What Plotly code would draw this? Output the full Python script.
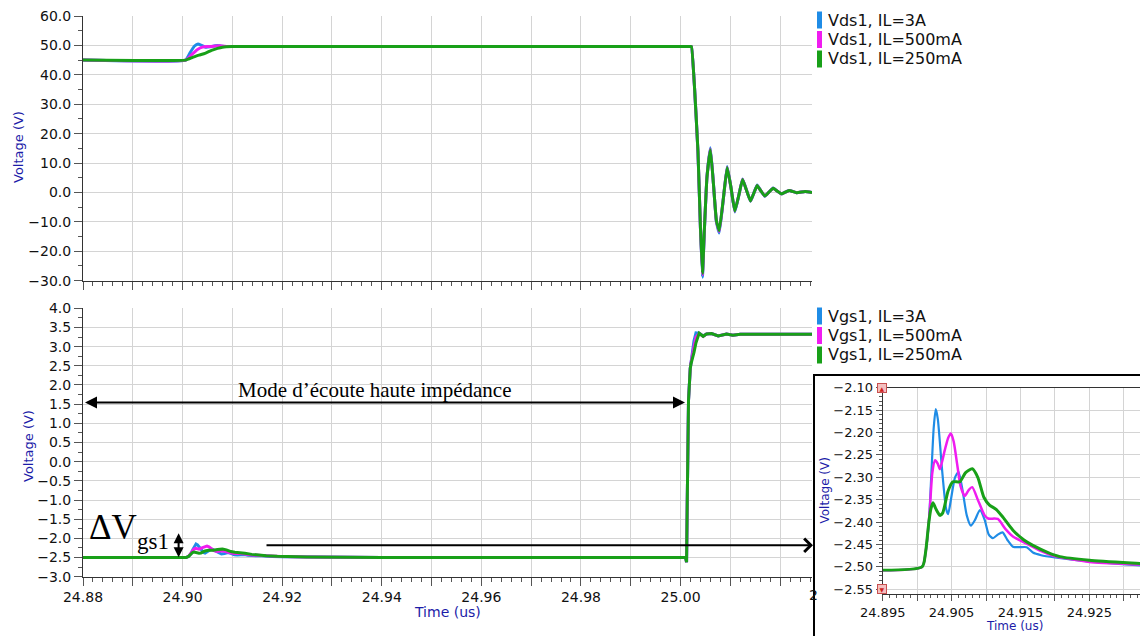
import plotly.graph_objects as go

# ---------------- data ----------------
series_colors = ["#1f8ce6", "#f01cf0", "#18a018"]
vds_names = ["Vds1, IL=3A", "Vds1, IL=500mA", "Vds1, IL=250mA"]
vgs_names = ["Vgs1, IL=3A", "Vgs1, IL=500mA", "Vgs1, IL=250mA"]

# Vds1 – turn-on bump around 24.90 us
t_vds_bump_3A = [24.88, 24.9006, 24.9015, 24.9024, 24.9031, 24.9038, 24.9046, 24.9055, 24.9065, 24.9075, 24.9085, 24.9100]
v_vds_bump_3A = [45.0, 45.0, 47.5, 49.8, 50.5, 50.0, 49.4, 49.5, 49.9, 49.9, 49.6, 49.6]
t_vds_bump_500mA = [24.88, 24.9006, 24.9018, 24.9030, 24.9040, 24.9050, 24.9062, 24.9075, 24.9090, 24.9100]
v_vds_bump_500mA = [45.0, 45.0, 46.8, 48.6, 49.4, 49.6, 49.7, 49.9, 49.6, 49.6]
t_vds_bump_250mA = [24.88, 24.9006, 24.9020, 24.9033, 24.9045, 24.9058, 24.9070, 24.9080, 24.9100]
v_vds_bump_250mA = [45.0, 45.0, 45.9, 46.7, 47.3, 48.3, 49.0, 49.4, 49.6]

# Vds1 – switching edge and ringing after 25.00 us
t_vds_ring = [25.0020, 25.0022, 25.0028, 25.0035, 25.0040, 25.0044, 25.0048, 25.0053, 25.0060, 25.0066, 25.0072,
              25.00777, 25.0086, 25.00936, 25.0101, 25.0109, 25.0117, 25.01245, 25.0132, 25.01405, 25.0147,
              25.01538, 25.0161, 25.01692, 25.0178, 25.01859, 25.0194, 25.02028, 25.0218, 25.0233, 25.0250, 25.0264]
v_vds_ring_3A = [49.6, 49.6, 36.0, 13.5, -12.5, -28.8, -12.5, 5.2, 15.2, 3.2, -10.0, -13.8, -2.2, 8.8, 2.0,
                 -6.6, -1.0, 4.6, 1.0, -3.0, -0.3, 2.5, 0.6, -1.3, 0.2, 1.5, 0.5, -0.5, 0.7, -0.1, 0.3, 0.0]
v_vds_ring_500mA = [49.6, 49.6, 36.0, 13.8, -12.2, -28.0, -12.2, 5.1, 14.8, 3.1, -9.7, -13.3, -2.1, 8.6, 2.0,
                    -6.4, -1.0, 4.5, 1.0, -2.9, -0.3, 2.4, 0.6, -1.2, 0.2, 1.4, 0.5, -0.45, 0.7, -0.1, 0.3, 0.0]
v_vds_ring_250mA = [49.6, 49.6, 36.0, 14.0, -12.0, -27.5, -12.0, 5.0, 14.5, 3.0, -9.5, -13.0, -2.0, 8.5, 2.0,
                    -6.3, -1.0, 4.4, 1.0, -2.9, -0.3, 2.4, 0.6, -1.2, 0.2, 1.4, 0.5, -0.45, 0.7, -0.1, 0.3, 0.0]

# Vgs1 – disturbance around 24.90 us (also shown in the zoomed inset)
t_vgs_bump_3A = [24.88, 24.9007, 24.9012, 24.9017, 24.9021, 24.9024, 24.9027, 24.9030, 24.9036, 24.9042,
                 24.9045, 24.9049, 24.9055, 24.9060, 24.9066, 24.9072, 24.9078, 24.9084, 24.9091, 24.9098,
                 24.9104, 24.9110, 24.9117, 24.9124, 24.9131, 24.9139, 24.9148, 24.9159, 24.9168, 24.9180,
                 24.9200, 24.9250, 24.9330, 24.9400]
v_vgs_bump_3A = [-2.50, -2.50, -2.47, -2.40, -2.28, -2.19, -2.148, -2.17, -2.28, -2.37,
                 -2.382, -2.35, -2.30, -2.288, -2.33, -2.385, -2.408, -2.395, -2.373, -2.395,
                 -2.428, -2.436, -2.428, -2.423, -2.44, -2.455, -2.456, -2.456, -2.468, -2.474,
                 -2.479, -2.488, -2.497, -2.50]
t_vgs_bump_500mA = [24.88, 24.9007, 24.9012, 24.9018, 24.9022, 24.9026, 24.9030, 24.9033, 24.9040, 24.9045,
                    24.9049, 24.9053, 24.9058, 24.9063, 24.9069, 24.9075, 24.9080, 24.9088, 24.9098, 24.9103,
                    24.9117, 24.9128, 24.9139, 24.9159, 24.9180, 24.9197, 24.9250, 24.9330, 24.9400]
v_vgs_bump_500mA = [-2.50, -2.50, -2.47, -2.38, -2.29, -2.262, -2.27, -2.282, -2.24, -2.212,
                    -2.202, -2.22, -2.27, -2.32, -2.342, -2.328, -2.322, -2.35, -2.385, -2.392,
                    -2.393, -2.415, -2.432, -2.448, -2.465, -2.475, -2.489, -2.495, -2.50]
t_vgs_bump_250mA = [24.88, 24.9007, 24.9012, 24.9017, 24.9020, 24.9023, 24.9027, 24.9033, 24.9037, 24.9045,
                    24.9052, 24.9062, 24.9070, 24.9080, 24.9088, 24.9097, 24.9105, 24.9115, 24.9125, 24.9139,
                    24.9155, 24.9168, 24.9190, 24.9207, 24.9250, 24.9330, 24.9400]
v_vgs_bump_250mA = [-2.50, -2.50, -2.47, -2.40, -2.37, -2.357, -2.37, -2.385, -2.38, -2.33,
                    -2.31, -2.31, -2.29, -2.281, -2.30, -2.345, -2.362, -2.372, -2.39, -2.418,
                    -2.44, -2.452, -2.468, -2.477, -2.485, -2.493, -2.50]

# Vgs1 – turn-on edge after 25.00 us
t_vgs_edge = [25.0010, 25.00121, 25.00135, 25.0016, 25.00195, 25.0021, 25.0027, 25.0031, 25.00374,
              25.00454, 25.00522, 25.00622, 25.00756, 25.00924, 25.0105, 25.0120, 25.0264]
v_vgs_edge_3A = [-2.5, -2.62, -1.0, 1.6, 2.43, 2.60, 3.15, 3.36, 3.35, 3.28, 3.33, 3.34, 3.28, 3.33, 3.30, 3.32, 3.32]
v_vgs_edge_500mA = [-2.5, -2.62, -1.0, 1.6, 2.43, 2.58, 3.00, 3.25, 3.35, 3.27, 3.33, 3.34, 3.28, 3.33, 3.30, 3.32, 3.32]
v_vgs_edge_250mA = [-2.5, -2.62, -1.0, 1.6, 2.43, 2.55, 2.85, 3.10, 3.35, 3.27, 3.33, 3.34, 3.28, 3.33, 3.30, 3.32, 3.32]

# axis ticks
x_main_ticks = [24.88, 24.89, 24.90, 24.91, 24.92, 24.93, 24.94, 24.95, 24.96, 24.97, 24.98, 24.99, 25.00, 25.01, 25.02]
x_main_text = ["24.88", "", "24.90", "", "24.92", "", "24.94", "", "24.96", "", "24.98", "", "25.00", "", ""]
x_inset_ticks = [24.895, 24.900, 24.905, 24.910, 24.915, 24.920, 24.925, 24.930]
x_inset_text = ["24.895", "", "24.905", "", "24.915", "", "24.925", ""]

# ---------------- assemble series ----------------
vds_t = [t_vds_bump_3A + t_vds_ring, t_vds_bump_500mA + t_vds_ring, t_vds_bump_250mA + t_vds_ring]
vds_v = [v_vds_bump_3A + v_vds_ring_3A, v_vds_bump_500mA + v_vds_ring_500mA, v_vds_bump_250mA + v_vds_ring_250mA]
vgs_t = [t_vgs_bump_3A + t_vgs_edge, t_vgs_bump_500mA + t_vgs_edge, t_vgs_bump_250mA + t_vgs_edge]
vgs_v = [v_vgs_bump_3A + v_vgs_edge_3A, v_vgs_bump_500mA + v_vgs_edge_500mA, v_vgs_bump_250mA + v_vgs_edge_250mA]
inset_widths = [2.2, 2.5, 3.0]

# The page body has an 8px margin, so the figure is drawn 8px smaller and
# positions below are given in page pixels (fx / fy convert them).
OFF = 8
W, H = 1148 - OFF, 636 - OFF
ML, MR, MT, MB = 83 - OFF, 0, 16 - OFF, 20
PW, PH = W - ML - MR, H - MT - MB


def fx(p):
    return (p - OFF - ML) / PW


def fy(p):
    return (H - MB - (p - OFF)) / PH


fig = go.Figure()
for i in range(3):
    fig.add_trace(go.Scatter(x=vds_t[i], y=vds_v[i], mode="lines", name=vds_names[i],
                             line=dict(color=series_colors[i], width=3, shape="spline", smoothing=0.35),
                             xaxis="x", yaxis="y"))
for i in range(3):
    fig.add_trace(go.Scatter(x=vgs_t[i], y=vgs_v[i], mode="lines", name=vgs_names[i],
                             line=dict(color=series_colors[i], width=3), xaxis="x2", yaxis="y2"))
for i in range(3):
    fig.add_trace(go.Scatter(x=vgs_t[i], y=vgs_v[i], mode="lines", name=vgs_names[i],
                             line=dict(color=series_colors[i], width=inset_widths[i], shape="spline", smoothing=0.6),
                             xaxis="x3", yaxis="y3"))

tick_font = dict(family="DejaVu Sans", size=14, color="#111")
inset_font = dict(family="DejaVu Sans", size=13, color="#111")
common = dict(showline=True, linecolor="#333", linewidth=1, ticks="outside", ticklen=8,
              tickcolor="#555", tickwidth=1, gridcolor="#d4d4d4", gridwidth=1, zeroline=False,
              tickfont=tick_font, automargin=False, ticklabeloverflow="allow")

main_dom = [0.0, fx(812)]
xr = [24.88, 25.0264]

fig.update_layout(
    width=W, height=H, autosize=False,
    margin=dict(l=ML, r=MR, t=MT, b=MB, pad=0, autoexpand=False),
    paper_bgcolor="white", plot_bgcolor="white",
    showlegend=False,
    font=dict(family="DejaVu Sans", size=14, color="#111"),
    xaxis=dict(common, domain=main_dom, range=xr, anchor="y", tickmode="array", tickvals=x_main_ticks,
               showticklabels=False,
               minor=dict(ticks="outside", ticklen=4, tickcolor="#555", dtick=0.002, tick0=24.88, showgrid=False)),
    yaxis=dict(common, domain=[fy(280.7), 1.0], range=[-30, 60], anchor="x", dtick=10, tick0=0,
               tickformat=".1f",
               minor=dict(ticks="outside", ticklen=4, tickcolor="#555", dtick=5, tick0=0, showgrid=False)),
    xaxis2=dict(common, domain=main_dom, range=xr, anchor="y2", tickmode="array", tickvals=x_main_ticks,
                ticktext=x_main_text, ticklabelstandoff=-1,
                minor=dict(ticks="outside", ticklen=4, tickcolor="#555", dtick=0.002, tick0=24.88, showgrid=False)),
    yaxis2=dict(common, domain=[fy(576.7), fy(308.3)], range=[-3, 4], anchor="x2", dtick=0.5, tick0=0,
                tickformat=".1f",
                minor=dict(ticks="outside", ticklen=4, tickcolor="#555", dtick=0.25, tick0=0, showgrid=False)),
    xaxis3=dict(common, domain=[fx(882.7), fx(1145)], range=[24.895, 24.93307], anchor="y3",
                tickmode="array", tickvals=x_inset_ticks, ticktext=x_inset_text, tickfont=inset_font,
                ticklen=6, mirror=True, ticklabelstandoff=0,
                minor=dict(ticks="outside", ticklen=3, tickcolor="#555", dtick=0.001, tick0=24.895, showgrid=False)),
    yaxis3=dict(common, domain=[fy(594), fy(387.7)], range=[-2.5605, -2.10], anchor="x3", dtick=0.05,
                tick0=-2.5, tickformat=".2f", tickfont=inset_font, ticklen=6,
                minor=dict(ticks="outside", ticklen=3, tickcolor="#555", dtick=0.01, tick0=-2.5, showgrid=False)),
)

shapes = []
annotations = []

# inset frame
shapes.append(dict(type="rect", xref="paper", yref="paper", x0=fx(814), x1=fx(1152), y0=fy(375), y1=fy(640),
                   line=dict(color="black", width=2), fillcolor="rgba(0,0,0,0)", layer="below"))

# legends (colour bars + labels)
for names, rows in ((vds_names, [20, 39.5, 59]), (vgs_names, [316, 335.5, 355])):
    for i, name in enumerate(names):
        yc = rows[i]
        shapes.append(dict(type="rect", xref="paper", yref="paper", x0=fx(817), x1=fx(822),
                           y0=fy(yc + 8.5), y1=fy(yc - 8.5), line=dict(width=0),
                           fillcolor=series_colors[i]))
        annotations.append(dict(xref="paper", yref="paper", x=fx(826), y=fy(yc), text=name,
                                showarrow=False, xanchor="left", yanchor="middle",
                                font=dict(family="DejaVu Sans", size=16, color="#111")))

# axis titles
title_col = "#1c1ca8"
annotations += [
    dict(xref="paper", yref="paper", x=fx(18), y=fy(147), text="Voltage (V)", textangle=-90, showarrow=False,
         font=dict(family="DejaVu Sans", size=13, color=title_col), xanchor="center", yanchor="middle"),
    dict(xref="paper", yref="paper", x=fx(28), y=fy(446), text="Voltage (V)", textangle=-90, showarrow=False,
         font=dict(family="DejaVu Sans", size=13, color=title_col), xanchor="center", yanchor="middle"),
    dict(xref="paper", yref="paper", x=fx(447.5), y=fy(612), text="Time (us)", showarrow=False,
         font=dict(family="DejaVu Sans", size=14, color=title_col), xanchor="center", yanchor="middle"),
    dict(xref="paper", yref="paper", x=fx(824.5), y=fy(491), text="Voltage (V)", textangle=-90, showarrow=False,
         font=dict(family="DejaVu Sans", size=12, color=title_col), xanchor="center", yanchor="middle"),
    dict(xref="paper", yref="paper", x=fx(1014), y=fy(626), text="Time (us)", showarrow=False,
         font=dict(family="DejaVu Sans", size=12, color=title_col), xanchor="center", yanchor="middle"),
    # partially hidden tick labels at the right edges
    dict(xref="paper", yref="paper", x=fx(807), y=fy(595), text="2", showarrow=False,
         font=tick_font, xanchor="left", yanchor="middle"),
    dict(xref="paper", yref="paper", x=fx(1140), y=fy(611), text="2", showarrow=False,
         font=inset_font, xanchor="left", yanchor="middle"),
]

# red scroll markers on inset y-axis
for yy, sym in ((388, "▲"), (589, "▼")):
    annotations.append(dict(xref="paper", yref="paper", x=fx(882), y=fy(yy), text=sym, showarrow=False,
                            font=dict(size=6, color="#d02020"), bgcolor="#f3c0c0", bordercolor="#c85050",
                            borderwidth=1, borderpad=0, xanchor="center", yanchor="middle", width=8, height=8))

# text annotations
annotations += [
    dict(xref="x2", yref="y2", x=24.9108, y=1.87, text="Mode d’écoute haute impédance", showarrow=False,
         xanchor="left", yanchor="middle",
         font=dict(family="Liberation Serif", size=21, color="black")),
    dict(xref="paper", yref="paper", x=fx(87), y=fy(527), text="ΔV", showarrow=False,
         xanchor="left", yanchor="middle", font=dict(family="Liberation Serif", size=35, color="black")),
    dict(xref="paper", yref="paper", x=fx(135), y=fy(541), text="gs1", showarrow=False,
         xanchor="left", yanchor="middle", font=dict(family="Liberation Serif", size=23, color="black")),
]

# arrows
annotations += [
    dict(xref="x2", yref="y2", x=25.0009, y=1.545, ax=24.8801, ay=1.545, axref="x2", ayref="y2", text="",
         showarrow=True, arrowhead=2, startarrowhead=2, arrowside="end+start", arrowsize=1.2,
         arrowwidth=2, arrowcolor="black", standoff=0, startstandoff=0),
    dict(xref="x2", yref="y2", x=24.8992, y=-1.87, ax=24.8992, ay=-2.53, axref="x2", ayref="y2", text="",
         showarrow=True, arrowhead=2, startarrowhead=2, arrowside="end+start", arrowsize=1.0,
         arrowwidth=2, arrowcolor="black", standoff=0, startstandoff=0),
    dict(xref="paper", yref="y2", x=fx(813), y=-2.18, ax=-548, ay=0, axref="pixel", ayref="pixel", text="",
         showarrow=True, arrowhead=4, arrowsize=1.3, arrowwidth=2, arrowcolor="black", standoff=0),
]

fig.update_layout(shapes=shapes, annotations=annotations)
fig.write_html("out.html")
